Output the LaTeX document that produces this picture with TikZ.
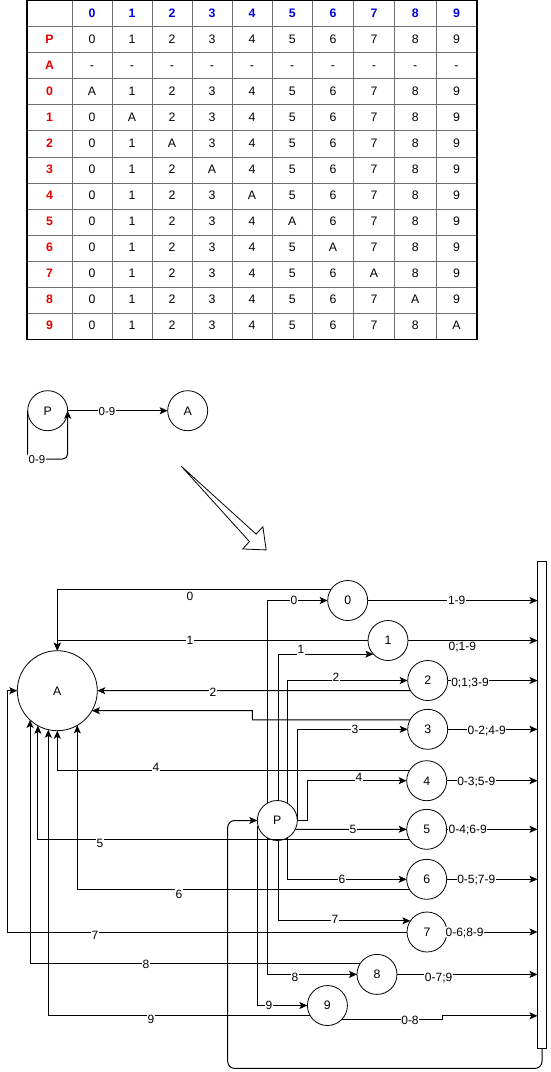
\documentclass[tikz,border=0pt]{standalone}
\usepackage{fontspec}
\setmainfont{Liberation Sans}
\usetikzlibrary{arrows.meta}
\definecolor{hdrblue}{RGB}{0,0,230}
\definecolor{hdrred}{RGB}{230,0,0}
\definecolor{gridgray}{RGB}{110,110,110}
\begin{document}
\begin{tikzpicture}[x=1pt,y=-1pt,
  every node/.style={inner sep=0pt, outer sep=0pt, text height=8.8pt, text depth=0pt},
  cell/.style={font=\fontsize{12.3}{14}\selectfont},
  hdr/.style={text=hdrblue, font=\fontsize{12.3}{14}\selectfont\bfseries},
  rowlab/.style={text=hdrred, font=\fontsize{12.3}{14}\selectfont\bfseries},
  state/.style={circle, draw, line width=0.8pt, minimum size=40pt, font=\fontsize{12.3}{14}\selectfont},
  big/.style={state, minimum size=80pt},
  lbl/.style={fill=white, inner sep=0.6pt, font=\fontsize{12}{14}\selectfont},
  tip/.style={-{Stealth[length=8pt,width=7pt,inset=1.8pt]}},
  wire/.style={line width=1pt},
]
\useasboundingbox (0,0) rectangle (550,1072);

% ---------- transition table ----------
\foreach \i in {1,...,12}
  \draw[gridgray, line width=0.8pt] (27,{0.6+26.05*\i}) -- (477,{0.6+26.05*\i});
\foreach \x in {72,112,152,192,232,272,312.5,353.5,394.5,436}
  \draw[gridgray, line width=0.8pt] (\x,0.6) -- (\x,339.25);
\draw[line width=1.2pt] (27,0.6) rectangle (477,339.25);

\node[rowlab] (rP) at (49.5,38.65) {P};
\node[rowlab] (rA) at (49.5,64.7) {A};
\foreach \c [count=\k from 0] in {92,132,172,212,252,292.25,333,374,415.25,456.5} {
  \node[hdr] (h\k) at (\c,12.6) {\k};
  \node[cell] (p\k) at (\c,38.65) {\k};
  \node[cell] (a\k) at (\c,64.7) {-};
}
\foreach \r in {0,...,9} {
  \pgfmathsetmacro\yy{12.6+26.05*(\r+3)}
  \node[rowlab] (r\r) at (49.5,\yy) {\r};
  \foreach \c [count=\k from 0] in {92,132,172,212,252,292.25,333,374,415.25,456.5} {
    \ifnum\k=\r
      \node[cell] (c\r\k) at (\c,\yy) {A};
    \else
      \node[cell] (c\r\k) at (\c,\yy) {\k};
    \fi
  }
}

% ---------- two-state automaton ----------
\node[state] (sP) at (47.7,410.7) {P};
\node[state] (sA) at (187.7,410.7) {A};
\draw[wire,tip] (sP) -- (sA);
\draw[wire,tip,rounded corners=5pt] (sP.west) -- ++(0,48.3) -| (sP.east);
\node[lbl,font=\fontsize{11.5}{13}\selectfont] (sl1) at (107,410.7) {0-9};
\node[lbl,font=\fontsize{11.5}{13}\selectfont] (sl2) at (37,459) {0-9};

% ---------- hollow block arrow ----------
\draw[line width=0.8pt, fill=white] [shift={(178,470)}, rotate=-42.2]
  (0,-5) -- (101,-5) -- (101,-15) -- (119,0) -- (101,15) -- (101,5) -- cycle;

% ---------- expanded automaton ----------
\node[big] (A) at (57.3,690.7) {A};
\node[state] (P) at (277.3,820.5) {P};
\node[state] (n0) at (347.7,600.5) {0};
\node[state] (n1) at (388,640.5) {1};
\node[state] (n2) at (427.7,680.5) {2};
\node[state] (n3) at (427.7,729.3) {3};
\node[state] (n4) at (426.7,780.7) {4};
\node[state] (n5) at (426.7,829.3) {5};
\node[state] (n6) at (426.7,879.3) {6};
\node[state] (n7) at (427,932) {7};
\node[state] (n8) at (377,974.4) {8};
\node[state] (n9) at (327.4,1005.5) {9};
\node[draw, line width=0.8pt, minimum width=9pt, minimum height=487pt] (bar) at (542,804.5) {};

% P to the digit states
\draw[wire,tip] (P.118.7) |- (n0);
\draw[wire,tip] (P.87.1) |- (n1.223.6);
\draw[wire,tip] (P.58.7) |- (n2);
\draw[wire,tip] (P.east) |- (n3);
\draw[wire,tip] (P.east) -- ++(10,0) |- (n4);
\draw[wire,tip] (P.-26.1) -- (n5);
\draw[wire,tip] (P.-58.7) |- (n6);
\draw[wire,tip] (P.-87.1) |- (n7.146.6);
\draw[wire,tip] (P.-118.7) |- (n8);
\draw[wire,tip] (P.-165.9) |- (n9);

% digit states back to A
\draw[wire,tip] (n0.148.3) -| (A.north);
\draw[wire,tip] (n1.west) -| (A.north);
\draw[wire,tip] (n2.210.7) -- (A.east);
\draw[wire,tip] (n3.152.3) -| (252.3,710.7) -- (A.-30);
\draw[wire,tip] (n4.148.7) -| (A.-90);
\draw[wire,tip] (n5.212.3) -| (A.-119.3);
\draw[wire,tip] (n6.212.3) -| (A.-60);
\draw[wire,tip] (n7.west) -| ([xshift=-10pt]A.west) -- (A.west);
\draw[wire,tip] (n8.148.3) -| (A.-133);
\draw[wire,tip] (n9.211) -| (A.-103.9);

% digit states to the collector bar
\draw[wire,tip] (n0.east) -- (n0.east -| bar.west);
\draw[wire,tip] (n1.east) -- (n1.east -| bar.west);
\draw[wire,tip] (n2.east) -- (n2.east -| bar.west);
\draw[wire,tip] (n3.east) -- (n3.east -| bar.west);
\draw[wire,tip] (n4.east) -- (n4.east -| bar.west);
\draw[wire,tip] (n5.east) -- (n5.east -| bar.west);
\draw[wire,tip] (n6.east) -- (n6.east -| bar.west);
\draw[wire,tip] (n7.east) -- (n7.east -| bar.west);
\draw[wire,tip] (n8.east) -- (n8.east -| bar.west);
\draw[wire,tip] (n9.-46.5) -| (442,1015.8) -- (bar.west |- 0,1015.8);

% collector bar back to P
\draw[wire,tip,rounded corners=7pt] (bar.south) |- (227.7,1068.4) |- (P.west);

% labels on the returns to A
\node[lbl] (ra0) at (190,596) {0};
\node[lbl] (ra1) at (190,640.5) {1};
\node[lbl] (ra2) at (213,692) {2};
\node[lbl] (ra4) at (156,767.5) {4};
\node[lbl] (ra5) at (100,843) {5};
\node[lbl] (ra6) at (179,894) {6};
\node[lbl] (ra7) at (95,935) {7};
\node[lbl] (ra8) at (146,964) {8};
\node[lbl] (ra9) at (151,1019) {9};

% labels on the edges leaving P
\node[lbl] (pl0) at (294,600.5) {0};
\node[lbl] (pl1) at (301,649.5) {1};
\node[lbl] (pl2) at (336,677) {2};
\node[lbl] (pl3) at (355,729.3) {3};
\node[lbl] (pl4) at (359,777.5) {4};
\node[lbl] (pl5) at (353,829.3) {5};
\node[lbl] (pl6) at (342,879.3) {6};
\node[lbl] (pl7) at (335,919.5) {7};
\node[lbl] (pl8) at (295,977.5) {8};
\node[lbl] (pl9) at (269,1005.5) {9};

% labels on the edges into the bar
\node[lbl] (ol0) at (456.7,600.5) {1-9};
\node[lbl] (ol1) at (462.3,646.5) {0;1-9};
\node[lbl] (ol2) at (470,682) {0;1;3-9};
\node[lbl] (ol3) at (486.7,730) {0-2;4-9};
\node[lbl] (ol4) at (476.3,780.7) {0-3;5-9};
\node[lbl] (ol5) at (467.7,829.3) {0-4;6-9};
\node[lbl] (ol6) at (476.3,879.3) {0-5;7-9};
\node[lbl] (ol7) at (464.6,932) {0-6;8-9};
\node[lbl] (ol8) at (438.6,977.5) {0-7;9};
\node[lbl] (ol9) at (410,1020) {0-8};
\end{tikzpicture}
\end{document}
